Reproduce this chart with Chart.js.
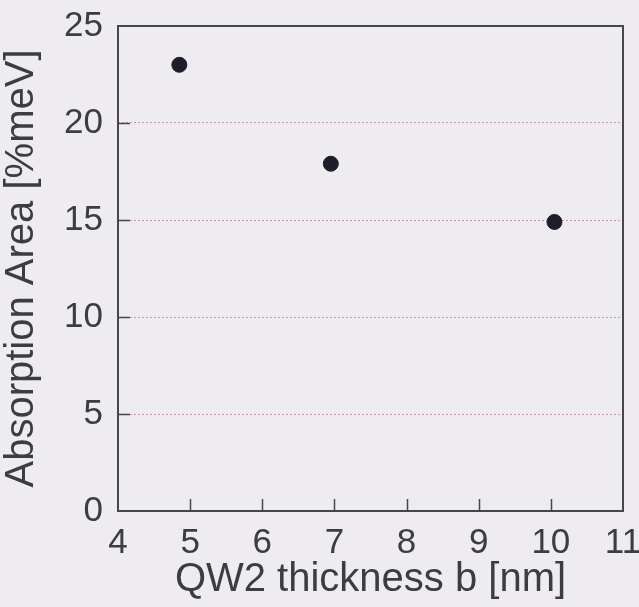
<!DOCTYPE html>
<html>
<head>
<meta charset="utf-8">
<script src="https://cdn.jsdelivr.net/npm/chart.js@4"></script>
<style>
  html, body { margin: 0; padding: 0; background: #eeecf0; }
  #wrap { width: 639px; height: 607px; }
</style>
</head>
<body>
<div id="wrap"><canvas id="absChart" width="639" height="607"></canvas></div>
<script>
// Data
const thickness = [4.85, 6.95, 10.05];          // QW2 thickness b [nm]
const absorption = [23.0, 17.9, 14.9];          // Absorption Area [%meV]
const xTicks = [4, 5, 6, 7, 8, 9, 10, 11];
const yTicks = [0, 5, 10, 15, 20, 25];

const INK = '#3d3c42';
const FONT = 'Liberation Sans, Arial, Helvetica, sans-serif';

// Frame, inward ticks and paper colour
const framePlugin = {
    id: 'frame',
    beforeDraw(chart) {
        const c = chart.ctx;
        c.save();
        c.fillStyle = '#eeecf0';
        c.fillRect(0, 0, chart.width, chart.height);
        c.restore();
    },
    afterDatasetsDraw(chart) {
        const { ctx: c, chartArea: a, scales } = chart;
        c.save();
        c.strokeStyle = '#47464c';
        c.lineWidth = 2;
        c.strokeRect(a.left, a.top, a.right - a.left, a.bottom - a.top);
        c.lineWidth = 1.5;
        c.beginPath();
        xTicks.slice(1, -1).forEach(v => {
            const x = Math.round(scales.x.getPixelForValue(v)) + 0.5;
            c.moveTo(x, a.bottom);
            c.lineTo(x, a.bottom - 12);
        });
        yTicks.slice(1, -1).forEach(v => {
            const y = Math.round(scales.y.getPixelForValue(v)) + 0.5;
            c.moveTo(a.left, y);
            c.lineTo(a.left + 12, y);
        });
        c.stroke();
        c.restore();
    }
};

new Chart(document.getElementById('absChart'), {
    type: 'scatter',
    data: {
        datasets: [{
            data: thickness.map((x, i) => ({ x: x, y: absorption[i] })),
            backgroundColor: '#1f1d29',
            borderColor: '#1f1d29',
            pointRadius: 7.5,
            pointHoverRadius: 7.5
        }]
    },
    options: {
        responsive: false,
        animation: false,
        events: [],
        layout: { padding: { top: 26, right: 16, bottom: 0, left: 0 } },
        plugins: {
            legend: { display: false },
            tooltip: { enabled: false }
        },
        scales: {
            x: {
                type: 'linear',
                min: 4,
                max: 11,
                afterBuildTicks(scale) {
                    scale.ticks = xTicks.map(v => ({ value: v }));
                },
                afterFit(scale) {
                    scale.height = 96;
                    scale.paddingLeft = 0;
                    scale.paddingRight = 0;
                },
                grid: { display: false, drawTicks: false, tickLength: 0 },
                border: { display: false },
                ticks: {
                    color: INK,
                    padding: 15,
                    maxRotation: 0,
                    autoSkip: false,
                    font: { family: FONT, size: 35, lineHeight: 1 }
                },
                title: {
                    display: true,
                    text: 'QW2 thickness b [nm]',
                    color: INK,
                    padding: { top: 0, bottom: 7 },
                    font: { family: FONT, size: 40, lineHeight: 1 }
                }
            },
            y: {
                type: 'linear',
                min: 0,
                max: 25,
                afterBuildTicks(scale) {
                    scale.ticks = yTicks.map(v => ({ value: v }));
                },
                afterFit(scale) {
                    scale.width = 118;
                    scale.paddingTop = 0;
                    scale.paddingBottom = 0;
                },
                grid: {
                    drawTicks: false,
                    tickLength: 0,
                    lineWidth: 1,
                    color: ctx => (ctx.tick && ctx.tick.value > 0 && ctx.tick.value < 25) ? '#c79aaa' : 'rgba(0,0,0,0)'
                },
                border: { display: false, dash: [2, 2] },
                ticks: {
                    color: INK,
                    padding: 15,
                    autoSkip: false,
                    font: { family: FONT, size: 35, lineHeight: 1 }
                },
                title: {
                    display: true,
                    text: 'Absorption Area [%meV]',
                    color: INK,
                    padding: { top: 2, bottom: 0 },
                    font: { family: FONT, size: 40, lineHeight: 1 }
                }
            }
        }
    },
    plugins: [framePlugin]
});
</script>
</body>
</html>
